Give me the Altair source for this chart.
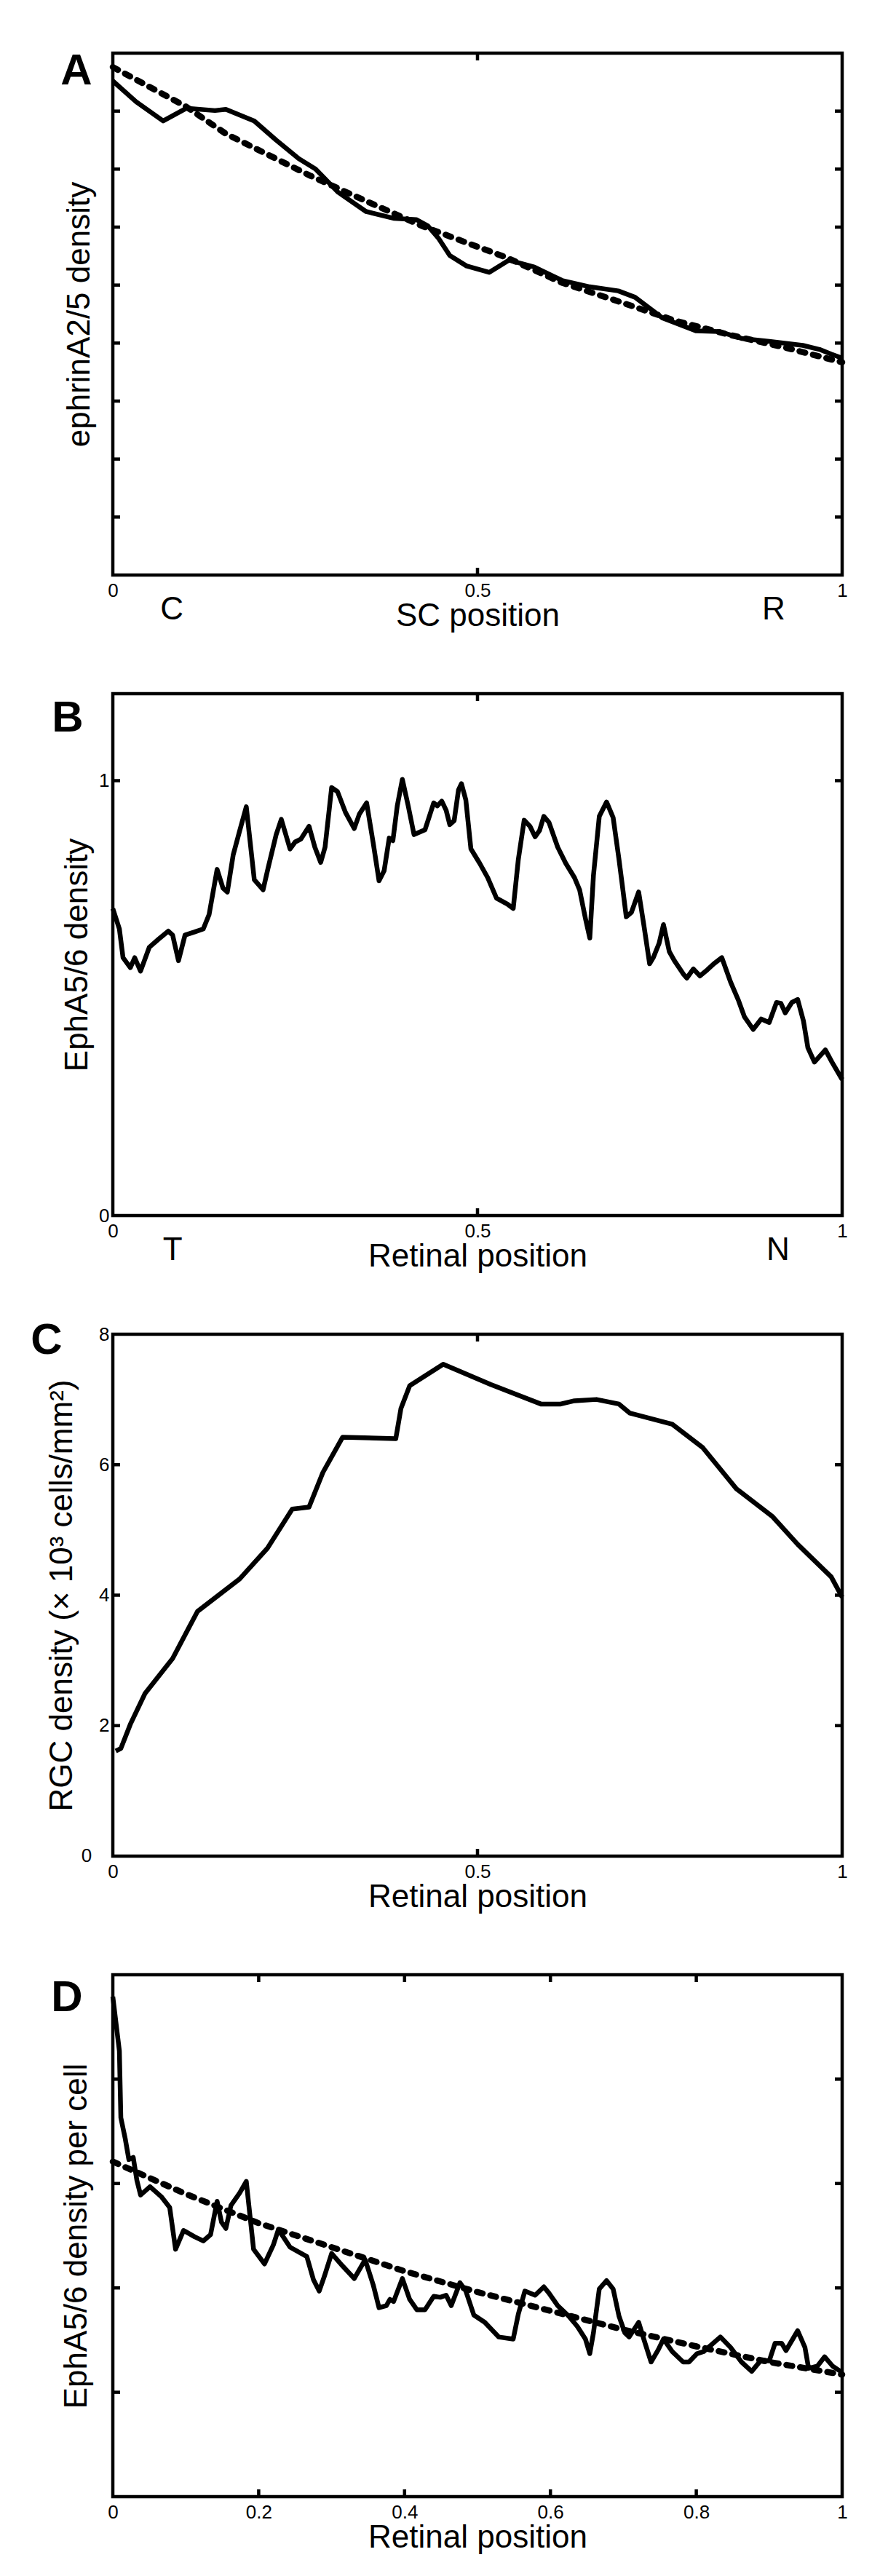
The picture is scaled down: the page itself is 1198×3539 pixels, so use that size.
import altair as alt
import pandas as pd

# ---------------- Panel A: ephrinA2/5 density along SC ----------------
a_solid_x = [0.0, 0.032, 0.069, 0.101, 0.140, 0.155, 0.194, 0.224, 0.255, 0.278,
             0.309, 0.347, 0.386, 0.416, 0.432, 0.447, 0.462, 0.485, 0.516, 0.543,
             0.578, 0.616, 0.654, 0.693, 0.716, 0.754, 0.800, 0.831, 0.862, 0.900,
             0.946, 0.969, 0.985, 1.0]
a_solid_y = [8.52, 8.16, 7.83, 8.05, 8.01, 8.03, 7.83, 7.50, 7.18, 7.00,
             6.60, 6.27, 6.15, 6.13, 6.02, 5.80, 5.51, 5.33, 5.22, 5.43,
             5.31, 5.08, 4.97, 4.90, 4.79, 4.43, 4.21, 4.20, 4.08, 4.03,
             3.96, 3.89, 3.81, 3.74]
a_fit_x = [0.0, 0.1, 0.155, 0.27, 0.347, 0.424, 0.5, 0.539, 0.616, 0.693, 0.77, 0.846, 0.923, 1.0]
a_fit_y = [8.76, 8.08, 7.61, 6.89, 6.45, 6.02, 5.66, 5.48, 5.04, 4.72, 4.39, 4.14, 3.92, 3.67]

# ---------------- Panel B: EphA5/6 density along retina ----------------
b_x = [0.0, 0.009, 0.014, 0.024, 0.030, 0.038, 0.050, 0.063, 0.076, 0.082,
       0.090, 0.099, 0.112, 0.124, 0.132, 0.143, 0.151, 0.157, 0.165, 0.174,
       0.183, 0.194, 0.206, 0.213, 0.224, 0.231, 0.243, 0.250, 0.258, 0.269,
       0.277, 0.285, 0.291, 0.300, 0.308, 0.319, 0.331, 0.338, 0.348, 0.357,
       0.365, 0.372, 0.379, 0.384, 0.390, 0.397, 0.405, 0.413, 0.428, 0.434,
       0.440, 0.445, 0.451, 0.457, 0.462, 0.468, 0.474, 0.478, 0.484, 0.491,
       0.503, 0.514, 0.526, 0.541, 0.549, 0.556, 0.564, 0.572, 0.579, 0.585,
       0.591, 0.598, 0.610, 0.621, 0.633, 0.640, 0.648, 0.654, 0.659, 0.667,
       0.677, 0.686, 0.694, 0.698, 0.704, 0.711, 0.721, 0.728, 0.736, 0.741,
       0.749, 0.755, 0.763, 0.770, 0.782, 0.787, 0.796, 0.805, 0.815, 0.824,
       0.835, 0.847, 0.858, 0.866, 0.878, 0.889, 0.900, 0.910, 0.916, 0.922,
       0.931, 0.939, 0.947, 0.953, 0.962, 0.977, 0.986, 1.0]
b_y = [0.706, 0.659, 0.593, 0.570, 0.593, 0.562, 0.617, 0.636, 0.654, 0.645,
       0.586, 0.645, 0.652, 0.659, 0.692, 0.796, 0.753, 0.744, 0.829, 0.885,
       0.940, 0.772, 0.749, 0.800, 0.876, 0.911, 0.843, 0.859, 0.866, 0.895,
       0.847, 0.812, 0.847, 0.984, 0.975, 0.927, 0.890, 0.923, 0.949, 0.857,
       0.770, 0.793, 0.868, 0.862, 0.942, 1.003, 0.942, 0.876, 0.887, 0.918,
       0.949, 0.942, 0.953, 0.932, 0.899, 0.908, 0.979, 0.993, 0.956, 0.843,
       0.810, 0.777, 0.730, 0.716, 0.706, 0.819, 0.909, 0.895, 0.871, 0.885,
       0.918, 0.904, 0.847, 0.810, 0.777, 0.749, 0.683, 0.638, 0.782, 0.918,
       0.951, 0.915, 0.819, 0.767, 0.687, 0.697, 0.744, 0.669, 0.579, 0.593,
       0.626, 0.669, 0.607, 0.586, 0.556, 0.546, 0.567, 0.551, 0.565, 0.579,
       0.593, 0.537, 0.494, 0.457, 0.428, 0.452, 0.444, 0.490, 0.488, 0.466,
       0.490, 0.497, 0.447, 0.386, 0.353, 0.381, 0.353, 0.313]

# ---------------- Panel C: RGC density ----------------
c_x = [0.004, 0.011, 0.024, 0.044, 0.082, 0.116, 0.174, 0.212, 0.246, 0.269,
       0.288, 0.315, 0.388, 0.395, 0.407, 0.453, 0.518, 0.587, 0.614, 0.633,
       0.663, 0.694, 0.709, 0.767, 0.809, 0.855, 0.904, 0.939, 0.985, 1.0]
c_y = [1.61, 1.65, 2.02, 2.49, 3.03, 3.75, 4.25, 4.72, 5.32, 5.35,
       5.88, 6.42, 6.40, 6.86, 7.21, 7.54, 7.23, 6.93, 6.93, 6.98,
       7.00, 6.93, 6.79, 6.62, 6.26, 5.63, 5.21, 4.78, 4.28, 3.97]

# ---------------- Panel D: EphA5/6 density per cell ----------------
d_solid_x = [0.0, 0.009, 0.011, 0.017, 0.022, 0.028, 0.033, 0.038, 0.051, 0.067,
             0.078, 0.086, 0.097, 0.112, 0.124, 0.134, 0.143, 0.149, 0.155, 0.162,
             0.174, 0.183, 0.193, 0.208, 0.220, 0.227, 0.243, 0.266, 0.275, 0.283,
             0.290, 0.300, 0.315, 0.331, 0.346, 0.357, 0.365, 0.375, 0.380, 0.385,
             0.397, 0.407, 0.417, 0.428, 0.440, 0.449, 0.457, 0.464, 0.476, 0.484,
             0.495, 0.510, 0.529, 0.549, 0.556, 0.565, 0.579, 0.591, 0.598, 0.610,
             0.625, 0.637, 0.648, 0.654, 0.659, 0.667, 0.677, 0.686, 0.694, 0.702,
             0.708, 0.721, 0.728, 0.738, 0.748, 0.755, 0.767, 0.782, 0.790, 0.801,
             0.810, 0.820, 0.833, 0.847, 0.862, 0.876, 0.889, 0.900, 0.908, 0.917,
             0.923, 0.939, 0.949, 0.954, 0.966, 0.976, 0.987, 1.0]
d_solid_y = [4.79, 4.27, 3.63, 3.43, 3.23, 3.25, 3.03, 2.89, 2.97, 2.87,
             2.77, 2.37, 2.55, 2.49, 2.45, 2.51, 2.83, 2.63, 2.57, 2.79,
             2.91, 3.02, 2.37, 2.23, 2.41, 2.56, 2.39, 2.30, 2.08, 1.97,
             2.11, 2.33, 2.21, 2.09, 2.27, 2.03, 1.81, 1.83, 1.89, 1.87,
             2.09, 1.89, 1.79, 1.79, 1.92, 1.91, 1.93, 1.83, 2.05, 1.97,
             1.74, 1.67, 1.53, 1.51, 1.75, 1.97, 1.93, 2.01, 1.95, 1.83,
             1.73, 1.63, 1.51, 1.37, 1.57, 1.99, 2.07, 1.99, 1.73, 1.57,
             1.53, 1.67, 1.51, 1.29, 1.41, 1.51, 1.39, 1.29, 1.29, 1.37,
             1.39, 1.45, 1.53, 1.43, 1.29, 1.20, 1.31, 1.30, 1.47, 1.47,
             1.40, 1.59, 1.43, 1.23, 1.25, 1.34, 1.25, 1.19]
d_fit_x = [0.0, 0.1, 0.2, 0.3, 0.4, 0.5, 0.6, 0.7, 0.8, 0.9, 1.0]
d_fit_y = [3.21, 2.90, 2.62, 2.39, 2.16, 1.96, 1.78, 1.60, 1.44, 1.29, 1.17]

# ---------------- ticks / labels ----------------
xticks_half = [0, 0.5, 1]
xticks_fifth = [0, 0.2, 0.4, 0.6, 0.8, 1.0]
a_yticks = [1, 2, 3, 4, 5, 6, 7, 8]
b_yticks = [0, 1]
c_yticks = [2, 4, 6, 8]
d_yticks = [1, 2, 3, 4]
a_end_labels = ["C", "R"]
a_end_pos = [0.081, 0.906]
b_end_labels = ["T", "N"]
b_end_pos = [0.082, 0.912]

W, H = 1002, 717
FONT = "Liberation Sans"
XS = alt.Scale(domain=[0, 1], nice=False, zero=False)


def x_axis(values, title):
    return alt.Axis(values=values, format="~g", labelFlush=False, labelOverlap=False,
                    labelFont=FONT, labelFontSize=26, labelColor="black",
                    labelBaseline="middle", labelPadding=21, ticks=False, tickSize=0,
                    domain=False, grid=False, title=title, titleFont=FONT,
                    titleFontSize=44, titleFontWeight="normal", titleColor="black",
                    titleY=56, titleBaseline="middle")


def y_axis(values, title, title_x):
    kw = dict(title=title, titleFont=FONT, titleFontSize=44, titleFontWeight="normal",
              titleColor="black", titleX=title_x, titleBaseline="middle",
              domain=False, grid=False, ticks=False, tickSize=0)
    if values:
        kw.update(values=values, format="~g", labelFont=FONT, labelFontSize=26,
                  labelColor="black", labelPadding=5)
    else:
        kw.update(labels=False)
    return alt.Axis(**kw)


def panel(lines, xvals, xtitle, ydom, ylab_vals, ytitle, ytitle_x,
          yticks, letter, letter_xy, ends=None, extra_zero=False):
    ys = alt.Scale(domain=ydom, nice=False, zero=False)
    xa = x_axis(xvals, xtitle)
    ya = y_axis(ylab_vals, ytitle, ytitle_x)
    X = lambda: alt.X("x:Q", scale=XS, axis=xa, title=xtitle)
    Y = lambda: alt.Y("y:Q", scale=ys, axis=ya, title=ytitle)
    layers = []
    for xs_, ys_, dashed in lines:
        df = pd.DataFrame({"x": xs_, "y": ys_})
        if dashed:
            mk = alt.Chart(df).mark_line(color="black", strokeWidth=8.5, strokeDash=[8, 11],
                                         strokeCap="round", strokeJoin="round")
        else:
            mk = alt.Chart(df).mark_line(color="black", strokeWidth=6.5, strokeJoin="round")
        layers.append(mk.encode(x=X(), y=Y(), order="x:Q"))

    inner_x = [v for v in xvals if 0 < v < 1]
    xt = pd.DataFrame({"x": inner_x})
    for y0, y1 in [(H, H - 10), (0, 10)]:
        layers.append(alt.Chart(xt).mark_rule(color="black", strokeWidth=4.5).encode(
            x=X(), y=alt.value(y0), y2=alt.value(y1)))
    inner_y = [v for v in yticks if ydom[0] < v < ydom[1]]
    yt = pd.DataFrame({"y": inner_y})
    for x0, x1 in [(0, 10), (W, W - 10)]:
        layers.append(alt.Chart(yt).mark_rule(color="black", strokeWidth=4.5).encode(
            y=Y(), x=alt.value(x0), x2=alt.value(x1)))

    layers.append(alt.Chart(pd.DataFrame({"t": [letter]})).mark_text(
        font=FONT, fontSize=60, fontWeight="bold", color="black",
        align="center", baseline="middle").encode(
        text="t:N", x=alt.value(letter_xy[0]), y=alt.value(letter_xy[1])))

    if ends:
        labs, pos = ends
        layers.append(alt.Chart(pd.DataFrame({"x": pos, "t": labs})).mark_text(
            font=FONT, fontSize=44, color="black", align="center", baseline="middle").encode(
            x=X(), y=alt.value(H + 48), text="t:N"))

    if extra_zero:
        layers.append(alt.Chart(pd.DataFrame({"y": [0], "t": ["0"]})).mark_text(
            font=FONT, fontSize=26, color="black", align="center", baseline="middle").encode(
            y=Y(), x=alt.value(-36), text="t:N"))

    return alt.layer(*layers).properties(width=W, height=H)


pA = panel([(a_fit_x, a_fit_y, True), (a_solid_x, a_solid_y, False)],
           xticks_half, "SC position", [0, 9], None, "ephrinA2/5 density", -46,
           a_yticks, "A", (-50, 25), ends=(a_end_labels, a_end_pos))
pB = panel([(b_x, b_y, False)],
           xticks_half, "Retinal position", [0, 1.2], b_yticks, "EphA5/6 density", -49,
           b_yticks, "B", (-62, 34), ends=(b_end_labels, b_end_pos))
pC = panel([(c_x, c_y, False)],
           xticks_half, "Retinal position", [0, 8], c_yticks,
           "RGC density (× 10³ cells/mm²)", -70,
           c_yticks, "C", (-91, 9), extra_zero=True)
pD = panel([(d_fit_x, d_fit_y, True), (d_solid_x, d_solid_y, False)],
           xticks_fifth, "Retinal position", [0, 5], None, "EphA5/6 density per cell", -50,
           d_yticks, "D", (-63, 32))

chart = alt.vconcat(pA, pB, pC, pD, spacing=163, bounds="flush").properties(
    padding={"left": 32, "top": 57, "right": 5, "bottom": 5},
    background="white",
).configure_view(stroke="black", strokeWidth=4.5)

chart.save("out.html", embed_options={"renderer": "svg", "actions": False})
